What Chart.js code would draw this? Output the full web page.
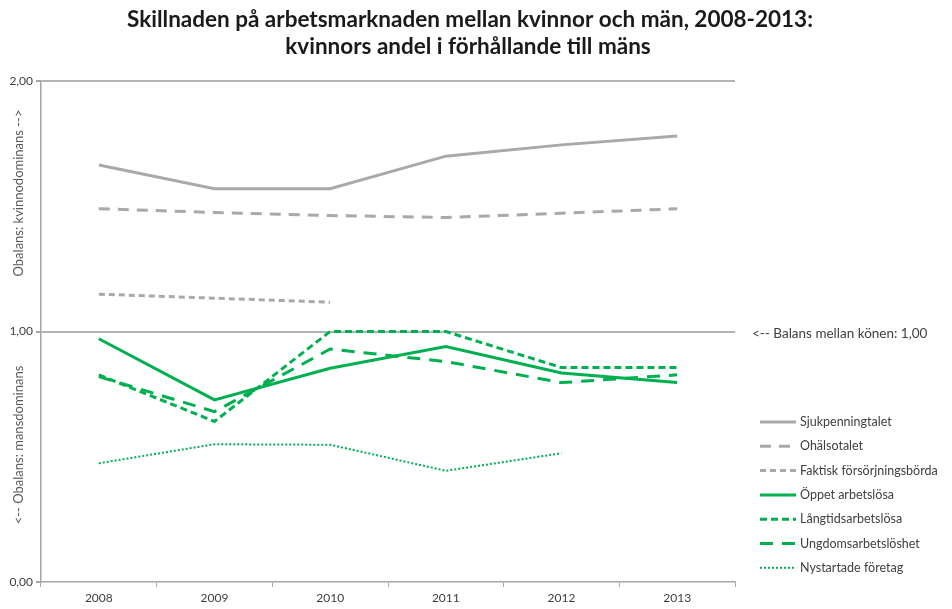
<!DOCTYPE html>
<html>
<head>
<meta charset="utf-8">
<script src="https://cdn.jsdelivr.net/npm/chart.js@4"></script>
<style>
  html, body { margin: 0; padding: 0; background: #fff; }
  #wrap { width: 952px; height: 609px; position: relative; }
</style>
</head>
<body>
<div id="wrap"><canvas id="chart" width="952" height="609"></canvas></div>
<script>
// data
const years = ['2008', '2009', '2010', '2011', '2012', '2013'];
const yTicks = [0, 1, 2];

const sjukpenningtalet = [1.665, 1.57, 1.57, 1.70, 1.745, 1.78];
const ohalsotalet = [1.49, 1.475, 1.463, 1.455, 1.472, 1.49];
const faktiskForsorjning = [1.149, 1.133, 1.117, null, null, null];
const oppetArbetslosa = [0.971, 0.727, 0.853, 0.94, 0.834, 0.796];
const langtidsarbetslosa = [0.827, 0.641, 1.0, 1.0, 0.856, 0.856];
const ungdomsarbetsloshet = [0.82, 0.68, 0.93, 0.88, 0.796, 0.827];
const nystartadeForetag = [0.474, 0.55, 0.548, 0.444, 0.514, null];

const titleLines = [
  'Skillnaden på arbetsmarknaden mellan kvinnor och män, 2008-2013:',
  'kvinnors andel i förhållande till mäns'
];

const GREY = '#a9a9a9';
const GREEN = '#00b050';
const FONT = 'Lato, "Open Sans", sans-serif';

function series(label, data, color, dash, width) {
  return {
    label: label,
    data: data,
    borderColor: color,
    backgroundColor: color,
    borderDash: dash,
    borderWidth: width,
    pointRadius: 0,
    tension: 0,
    fill: false,
    spanGaps: false
  };
}

const datasets = [
  series('Sjukpenningtalet', sjukpenningtalet, GREY, [], 3),
  series('Ohälsotalet', ohalsotalet, GREY, [11, 8], 3),
  series('Faktisk försörjningsbörda', faktiskForsorjning, GREY, [6, 4], 3),
  series('Öppet arbetslösa', oppetArbetslosa, GREEN, [], 3),
  series('Långtidsarbetslösa', langtidsarbetslosa, GREEN, [7, 4], 3),
  series('Ungdomsarbetslöshet', ungdomsarbetsloshet, GREEN, [13, 9], 3),
  series('Nystartade företag', nystartadeForetag, GREEN, [2, 2], 2)
];

// title, axis captions and legend drawn by hand
const decorations = {
  id: 'decorations',
  afterDraw(chart) {
    const ctx = chart.ctx;
    const y = chart.scales.y;
    ctx.save();

    // title
    ctx.fillStyle = '#1a1a1a';
    ctx.font = 'bold 22.5px ' + FONT;
    ctx.textAlign = 'center';
    ctx.textBaseline = 'middle';
    ctx.fillText(titleLines[0], 470, 20);
    ctx.fillText(titleLines[1], 468, 47);

    // rotated y captions
    ctx.fillStyle = '#595959';
    ctx.font = '13px ' + FONT;
    ctx.save();
    ctx.translate(19, 193);
    ctx.rotate(-Math.PI / 2);
    ctx.fillText('Obalans: kvinnodominans -->', 0, 0);
    ctx.restore();
    ctx.save();
    ctx.translate(19, 445);
    ctx.rotate(-Math.PI / 2);
    ctx.fillText('<-- Obalans: mansdominans', 0, 0);
    ctx.restore();

    // balance note
    ctx.fillStyle = '#404040';
    ctx.font = '13.5px ' + FONT;
    ctx.textAlign = 'left';
    ctx.fillText('<-- Balans mellan könen: 1,00', 752, y.getPixelForValue(1) + 2);

    // legend
    ctx.font = '12.5px ' + FONT;
    chart.data.datasets.forEach((ds, i) => {
      const ly = 422 + i * 24.3;
      ctx.beginPath();
      ctx.strokeStyle = ds.borderColor;
      ctx.lineWidth = ds.borderWidth;
      ctx.setLineDash(ds.borderDash);
      ctx.moveTo(760, ly);
      ctx.lineTo(796, ly);
      ctx.stroke();
      ctx.setLineDash([]);
      ctx.fillStyle = '#404040';
      ctx.fillText(ds.label, 800, ly);
    });
    ctx.restore();
  }
};

new Chart(document.getElementById('chart'), {
  type: 'line',
  data: { labels: years, datasets: datasets },
  options: {
    responsive: false,
    animation: false,
    layout: { padding: { top: 81, right: 217, left: 0, bottom: 0 } },
    plugins: {
      legend: { display: false },
      title: { display: false },
      tooltip: { enabled: false }
    },
    scales: {
      x: {
        offset: true,
        grid: {
          display: true,
          offset: true,
          drawOnChartArea: false,
          drawTicks: true,
          tickLength: 5,
          color: '#a6a6a6'
        },
        border: { color: '#a6a6a6', width: 1.5 },
        ticks: { color: '#404040', font: { family: FONT, size: 12 }, padding: 4 },
        afterFit(scale) { scale.height = 27; }
      },
      y: {
        min: 0,
        max: 2,
        afterBuildTicks(scale) { scale.ticks = yTicks.map(v => ({ value: v })); },
        grid: {
          color: ctx => ctx.tick && ctx.tick.value === 0 ? 'rgba(0,0,0,0)' : '#b3b3b3',
          lineWidth: 2,
          drawTicks: true,
          tickLength: 5,
          tickColor: '#a6a6a6'
        },
        border: { color: '#a6a6a6', width: 1.5 },
        ticks: {
          color: '#404040',
          font: { family: FONT, size: 12 },
          padding: 3,
          callback: v => v.toFixed(2).replace('.', ',')
        },
        afterFit(scale) { scale.width = 41; }
      }
    }
  },
  plugins: [decorations]
});
</script>
</body>
</html>
